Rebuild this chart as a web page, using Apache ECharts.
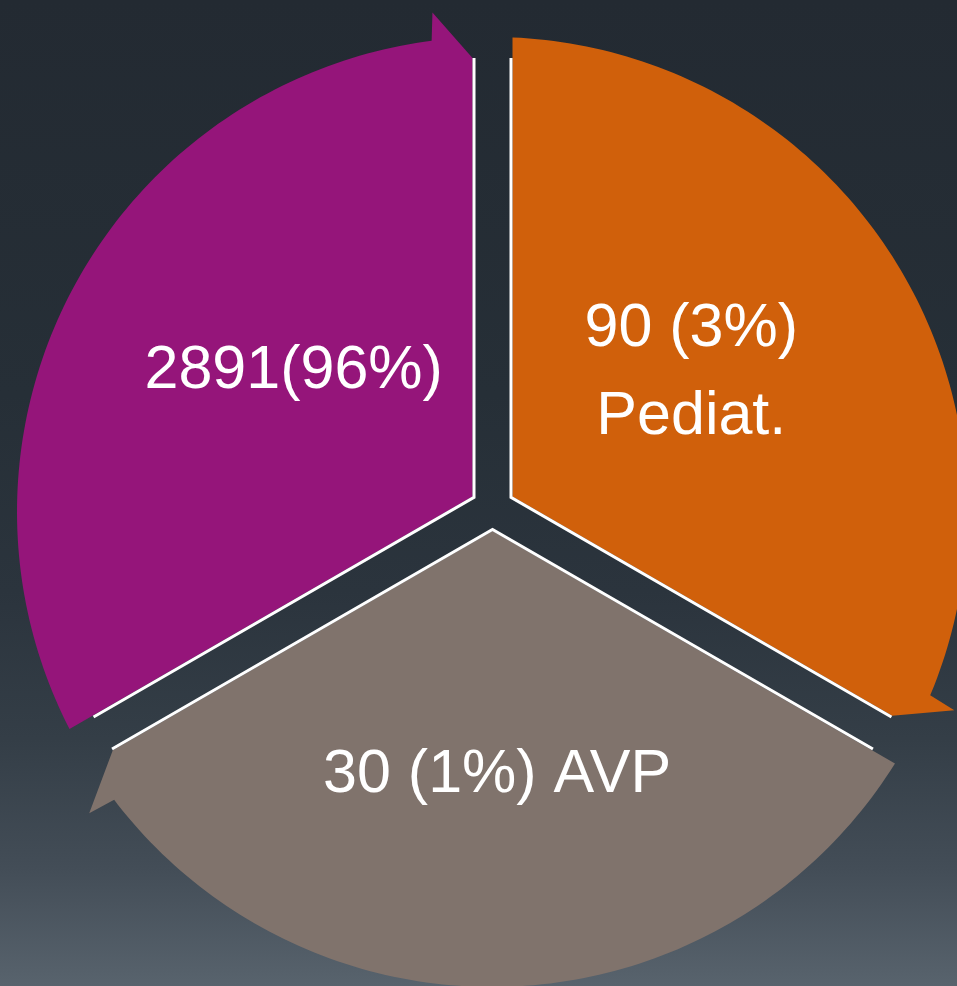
<!DOCTYPE html>
<html>
<head>
<meta charset="utf-8">
<script src="https://cdn.jsdelivr.net/npm/echarts@6/dist/echarts.min.js"></script>
<style>
html, body { margin: 0; padding: 0; }
#chart {
  width: 957px; height: 986px;
  background: linear-gradient(to bottom, #232a32 0%, #262f37 40%, #2b343d 60%, #343e47 75%, #434d57 88%, #58636d 100%);
}
</style>
</head>
<body>
<div id="chart"></div>
<script>
// ---- data (clockwise from the lower-left segment) ----
const categories = ['', 'Pediat.', 'AVP'];
const counts = [2891, 90, 30];
const percents = [96, 3, 1];
const labels = ['2891(96%)', '90 (3%)\nPediat.', '30 (1%) AVP'];
const segmentShares = [1, 1, 1]; // each segment of the cycle takes one third

// ---- layout / style (kept out of the data) ----
const colors = ['#95157a', '#d0600b', '#80736c'];
const START_ANGLE = 240;          // degrees clockwise from 12 o'clock
const J = [492.5, 508];           // junction of the gaps
const O = [492, 512];             // centre of the outer arcs
const R = 475;                    // outer radius
const H = 20;                     // half gap (fill edge)
const W = 18.5;                   // white edge line offset
const TIP_T = 450;                // arrow tip distance along edge
const BACK = 7.3;                 // arrow back angle before segment end
const EXT_ANG = 6.8;
const EXT_R = 503;
const labelTweaks = [{ da: 5.3, r: 243 }, { da: -4.9, r: 243 }, { da: -1.1, r: 263 }];

const total = segmentShares.reduce((a, b) => a + b, 0);
const rad = d => d * Math.PI / 180;
const dir = d => [Math.sin(rad(d)), -Math.cos(rad(d))];
const add = (p, v, k) => [p[0] + v[0] * k, p[1] + v[1] * k];

function renderItem(params, api) {
  const i = params.dataIndex;
  let before = 0;
  for (let k = 0; k < i; k++) before += segmentShares[k];
  const share = api.value(0);
  const a0 = START_ANGLE + 360 * before / total;
  const a1 = a0 + 360 * share / total;
  const mid = (a0 + a1) / 2;
  const half = rad((a1 - a0) / 2);
  const d0 = dir(a0), n0 = dir(a0 + 90), d1 = dir(a1), n1 = dir(a1 - 90);

  const corner = add(J, dir(mid), H / Math.sin(half));
  const base = add(J, n0, H);
  const Q = [base[0] - O[0], base[1] - O[1]];
  const qd = Q[0] * d0[0] + Q[1] * d0[1];
  const t = -qd + Math.sqrt(qd * qd - (Q[0] * Q[0] + Q[1] * Q[1]) + R * R);
  const ps = add(base, d0, t);
  let as = Math.atan2(ps[0] - O[0], -(ps[1] - O[1])) * 180 / Math.PI;
  let diff = ((as - a0) % 360 + 540) % 360 - 180;
  as = a0 + diff;

  const pts = [corner, ps];
  const aEnd = a1 - BACK;
  for (let a = as + 1; a < aEnd; a += 1) pts.push(add(O, dir(a), R));
  pts.push(add(O, dir(aEnd), R));
  pts.push(add(O, dir(a1 - EXT_ANG), EXT_R));
  const tip = add(add(J, n1, H), d1, TIP_T);
  pts.push(tip);

  const white = [
    add(add(J, n0, W), d0, TIP_T),
    add(J, dir(mid), W / Math.sin(half)),
    add(add(J, n1, W), d1, TIP_T)
  ];
  const lt = labelTweaks[i];
  const lp = add(O, dir(mid + lt.da), lt.r);

  return {
    type: 'group',
    children: [
      { type: 'polygon', shape: { points: pts }, style: { fill: colors[i] } },
      { type: 'polyline', shape: { points: white }, style: { stroke: '#ffffff', lineWidth: 3, fill: null } },
      {
        type: 'text', x: lp[0], y: lp[1],
        style: {
          text: labels[i], fill: '#ffffff', fontSize: 61,
          fontFamily: '"Liberation Sans", Arial, sans-serif',
          align: 'center', verticalAlign: 'middle', lineHeight: 88
        }
      }
    ]
  };
}

const chart = echarts.init(document.getElementById('chart'), null, { renderer: 'canvas' });
chart.setOption({
  backgroundColor: 'transparent',
  animation: false,
  series: [{
    type: 'custom',
    coordinateSystem: 'none',
    renderItem: renderItem,
    data: segmentShares.map((s, i) => ({ name: categories[i], value: [s, counts[i], percents[i]] }))
  }]
});
</script>
</body>
</html>
